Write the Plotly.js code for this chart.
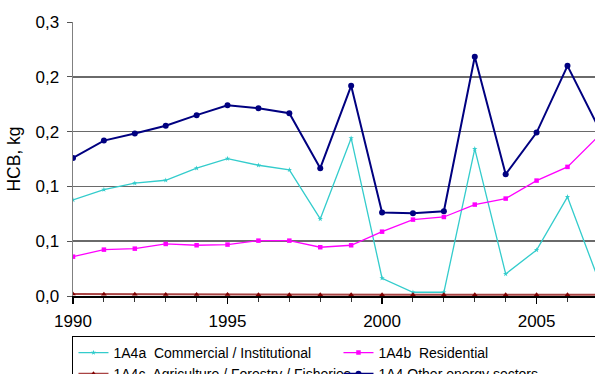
<!DOCTYPE html>
<html>
<head>
<meta charset="utf-8">
<script src="https://cdn.plot.ly/plotly-3.0.1.min.js"></script>
<style>
  html, body { margin: 0; padding: 0; background: #fff; overflow: hidden; }
  #chart { width: 595px; height: 374px; }
</style>
</head>
<body>
<div id="chart"></div>
<script>
// HCB emissions by sub-sector, kg
const years = [1990, 1991, 1992, 1993, 1994, 1995, 1996, 1997, 1998, 1999,
               2000, 2001, 2002, 2003, 2004, 2005, 2006, 2007];

const commercial = [0.0877, 0.0971, 0.1029, 0.1056, 0.1166, 0.1254, 0.1193, 0.1151, 0.0703, 0.1440,
                    0.0162, 0.0034, 0.0034, 0.1342, 0.0201, 0.0420, 0.0904, 0.0150];
const residential = [0.0359, 0.0423, 0.0432, 0.0475, 0.0463, 0.0469, 0.0505, 0.0505, 0.0445, 0.0463,
                     0.0587, 0.0697, 0.0721, 0.0834, 0.0889, 0.1053, 0.1178, 0.1457];
const agriculture = [0.0018, 0.0017, 0.0015, 0.0014, 0.0014, 0.0013, 0.0012, 0.0012, 0.0012, 0.0012,
                     0.0012, 0.0012, 0.0012, 0.0012, 0.0012, 0.0012, 0.0012, 0.0012];
const otherEnergy = [0.1260, 0.1418, 0.1482, 0.1553, 0.1650, 0.1741, 0.1714, 0.1668, 0.1166, 0.1918,
                     0.0761, 0.0755, 0.0773, 0.2183, 0.1111, 0.1491, 0.2100, 0.1540];

const seriesNames = [
  '1A4a\u00a0 Commercial / Institutional',
  '1A4b\u00a0 Residential',
  '1A4c\u00a0 Agriculture / Forestry / Fisheries',
  '1A4 Other energy sectors'
];

const yTickVals = [0, 0.05, 0.10, 0.15, 0.20, 0.25];
const yTickText = ['0,0', '0,1', '0,1', '0,2', '0,2', '0,3'];
const xTickVals = [1990, 1995, 2000, 2005];

const FONT = 'Liberation Sans, Arial, Helvetica, sans-serif';

const traces = [
  {
    x: years, y: commercial, name: seriesNames[0], type: 'scatter', mode: 'lines+markers',
    line: { color: '#33cccc', width: 1.3 },
    marker: { color: '#33cccc', size: 4, symbol: 'star' }
  },
  {
    x: years, y: residential, name: seriesNames[1], type: 'scatter', mode: 'lines+markers',
    line: { color: '#ff00ff', width: 1.3 },
    marker: { color: '#ff00ff', size: 4.5, symbol: 'square' }
  },
  {
    x: years, y: agriculture, name: seriesNames[2], type: 'scatter', mode: 'lines+markers',
    line: { color: '#a94444', width: 2 },
    marker: { color: '#800000', size: 5, symbol: 'triangle-up' }
  },
  {
    x: years, y: otherEnergy, name: seriesNames[3], type: 'scatter', mode: 'lines+markers',
    line: { color: '#000080', width: 2 },
    marker: { color: '#000080', size: 6, symbol: 'circle' }
  }
];

const layout = {
  width: 595,
  height: 374,
  margin: { l: 73, r: 0, t: 22, b: 78, autoexpand: false },
  paper_bgcolor: '#ffffff',
  plot_bgcolor: '#ffffff',
  font: { family: FONT, size: 17, color: '#000' },
  showlegend: true,
  xaxis: {
    range: [1990, 2006.89],
    tickvals: xTickVals,
    ticks: 'outside',
    ticklen: 6,
    tickwidth: 1.2,
    tickcolor: '#000',
    minor: { dtick: 1, tick0: 1990, ticks: 'outside', ticklen: 4, tickwidth: 1, tickcolor: '#333', showgrid: false },
    showgrid: false,
    zeroline: false,
    showline: true,
    linecolor: '#000',
    linewidth: 1.5,
    tickfont: { family: FONT, size: 17, color: '#000' },
    ticklabelstandoff: 3
  },
  yaxis: {
    range: [0, 0.25],
    tickvals: yTickVals,
    ticktext: yTickText,
    ticks: 'outside',
    ticklen: 5,
    tickcolor: '#555',
    showgrid: true,
    gridcolor: '#6a6a6a',
    gridwidth: 1.5,
    zeroline: false,
    showline: true,
    linecolor: '#808080',
    linewidth: 1.5,
    tickfont: { family: FONT, size: 17, color: '#000' },
    ticklabelstandoff: 4,
    title: { text: 'HCB, kg', font: { family: FONT, size: 17.5, color: '#000' }, standoff: 10 }
  },
  legend: {
    orientation: 'h',
    x: -0.001,
    xanchor: 'left',
    y: -0.146,
    yanchor: 'top',
    entrywidth: 220,
    entrywidthmode: 'pixels',
    bgcolor: '#ffffff',
    bordercolor: '#000',
    borderwidth: 1,
    font: { family: FONT, size: 14, color: '#000' },
    traceorder: 'normal'
  }
};

Plotly.newPlot('chart', traces, layout, { staticPlot: true, displayModeBar: false });
</script>
</body>
</html>
